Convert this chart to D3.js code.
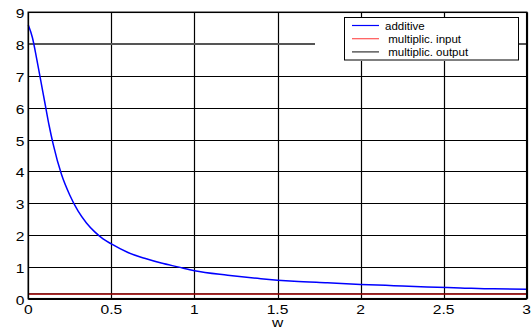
<!DOCTYPE html>
<html>
<head>
<meta charset="utf-8">
<script src="https://cdn.jsdelivr.net/npm/d3@7"></script>
<style>
  body { margin: 0; background: #fff; }
  text { font-family: "Liberation Sans", Arial, sans-serif; }
</style>
</head>
<body>
<div id="chart"></div>
<script>
// data
const wValues = [0, 0.025, 0.05, 0.075, 0.1, 0.125, 0.15, 0.2, 0.25, 0.3, 0.35, 0.4, 0.45, 0.5, 0.6, 0.7, 0.8, 0.9, 1.0, 1.2, 1.4, 1.6, 1.8, 2.0, 2.2, 2.4, 2.6, 2.8, 3.0];
const additive = [8.6, 8.2, 7.55, 6.85, 6.15, 5.45, 4.85, 3.9, 3.25, 2.75, 2.38, 2.1, 1.88, 1.72, 1.45, 1.27, 1.12, 1.0, 0.88, 0.74, 0.63, 0.55, 0.5, 0.45, 0.41, 0.37, 0.34, 0.31, 0.3];
const multInput = [0.15, 0.15];
const multOutput = [0.15, 0.15];
const flatW = [0, 3];
const xTicks = [0, 0.5, 1, 1.5, 2, 2.5, 3];
const yTicks = [0, 1, 2, 3, 4, 5, 6, 7, 8, 9];
const legendNames = ['additive', ' multiplic. input', ' multiplic. output'];
const legendColors = ['#0000ff', '#ff5555', '#333333'];

const width = 532, height = 329;
const margin = {top: 12.3, right: 5.3, bottom: 30.3, left: 28.3};
const stretch = 1.3; // tick labels look horizontally stretched

const svg = d3.select('#chart').append('svg')
  .attr('width', width)
  .attr('height', height);

const x = d3.scaleLinear().domain([0, 3]).range([margin.left, width - margin.right]);
const y = d3.scaleLinear().domain([0, 9]).range([height - margin.bottom, margin.top]);

// grid
const grid = svg.append('g').attr('class', 'grid');
grid.selectAll('line.v')
  .data(xTicks)
  .enter().append('line')
    .attr('class', 'v')
    .attr('x1', d => Math.round(x(d)) + 0.5)
    .attr('x2', d => Math.round(x(d)) + 0.5)
    .attr('y1', y(0))
    .attr('y2', y(9))
    .attr('stroke', '#000')
    .attr('stroke-width', 1.2);
grid.selectAll('line.h')
  .data(yTicks.filter(d => d !== 8))
  .enter().append('line')
    .attr('class', 'h')
    .attr('x1', x(0))
    .attr('x2', x(3))
    .attr('y1', d => Math.round(y(d)) + 0.5)
    .attr('y2', d => Math.round(y(d)) + 0.5)
    .attr('stroke', '#000')
    .attr('stroke-width', 1.2);
// the line at 8 looks heavier and grey
grid.append('line')
  .attr('x1', x(0))
  .attr('x2', x(3))
  .attr('y1', y(8))
  .attr('y2', y(8))
  .attr('stroke', '#555')
  .attr('stroke-width', 2);

// series
const line = d3.line()
  .curve(d3.curveMonotoneX)
  .x(d => x(d[0]))
  .y(d => y(d[1]));

svg.append('path')
  .datum(flatW.map((w, i) => [w, multInput[i]]))
  .attr('d', line)
  .attr('fill', 'none')
  .attr('stroke', '#ff0000')
  .attr('stroke-width', 1.5);
svg.append('path')
  .datum(flatW.map((w, i) => [w, multOutput[i]]))
  .attr('d', line)
  .attr('fill', 'none')
  .attr('stroke', '#000')
  .attr('stroke-width', 1)
  .attr('opacity', 0.8);
svg.append('path')
  .datum(wValues.map((w, i) => [w, additive[i]]))
  .attr('d', line)
  .attr('fill', 'none')
  .attr('stroke', '#0000ff')
  .attr('stroke-width', 1.5);

// frame
svg.append('rect')
  .attr('x', x(0))
  .attr('y', y(9))
  .attr('width', x(3) - x(0))
  .attr('height', y(0) - y(9))
  .attr('fill', 'none')
  .attr('stroke', '#000')
  .attr('stroke-width', 1.5);

// tick labels (stretched horizontally like the reference)
svg.append('g').selectAll('g')
  .data(xTicks)
  .enter().append('g')
    .attr('transform', d => `translate(${x(d)},${y(0) + 15})`)
  .append('text')
    .attr('transform', `scale(${stretch},1)`)
    .attr('text-anchor', 'middle')
    .attr('font-size', 12)
    .text(d => d);
svg.append('g').selectAll('g')
  .data(yTicks)
  .enter().append('g')
    .attr('transform', d => `translate(${x(0) - 4},${y(d) + 6})`)
  .append('text')
    .attr('transform', `scale(${stretch},1)`)
    .attr('text-anchor', 'end')
    .attr('font-size', 12)
    .text(d => d);

svg.append('g')
  .attr('transform', `translate(${x(1.5)},327)`)
  .append('text')
    .attr('transform', `scale(${stretch},1)`)
    .attr('text-anchor', 'middle')
    .attr('font-size', 12)
    .text('w');

// legend
const legend = svg.append('g');
legend.append('rect')
  .attr('x', 315).attr('y', 17)
  .attr('width', 204).attr('height', 44)
  .attr('fill', '#fff');
legend.append('rect')
  .attr('x', 344.5).attr('y', 17.5)
  .attr('width', 174).attr('height', 42.5)
  .attr('fill', '#fff')
  .attr('stroke', '#000')
  .attr('stroke-width', 1);
const items = legend.selectAll('g.item')
  .data(legendNames)
  .enter().append('g')
    .attr('class', 'item')
    .attr('transform', (d, i) => `translate(0,${25.5 + i * 13.2})`);
items.append('line')
  .attr('x1', 352).attr('x2', 379)
  .attr('stroke', (d, i) => legendColors[i])
  .attr('stroke-width', 1.2);
items.append('text')
  .attr('x', 385)
  .attr('dy', '0.35em')
  .attr('font-size', 11.5)
  .attr('xml:space', 'preserve')
  .style('white-space', 'pre')
  .text(d => d);
</script>
</body>
</html>
